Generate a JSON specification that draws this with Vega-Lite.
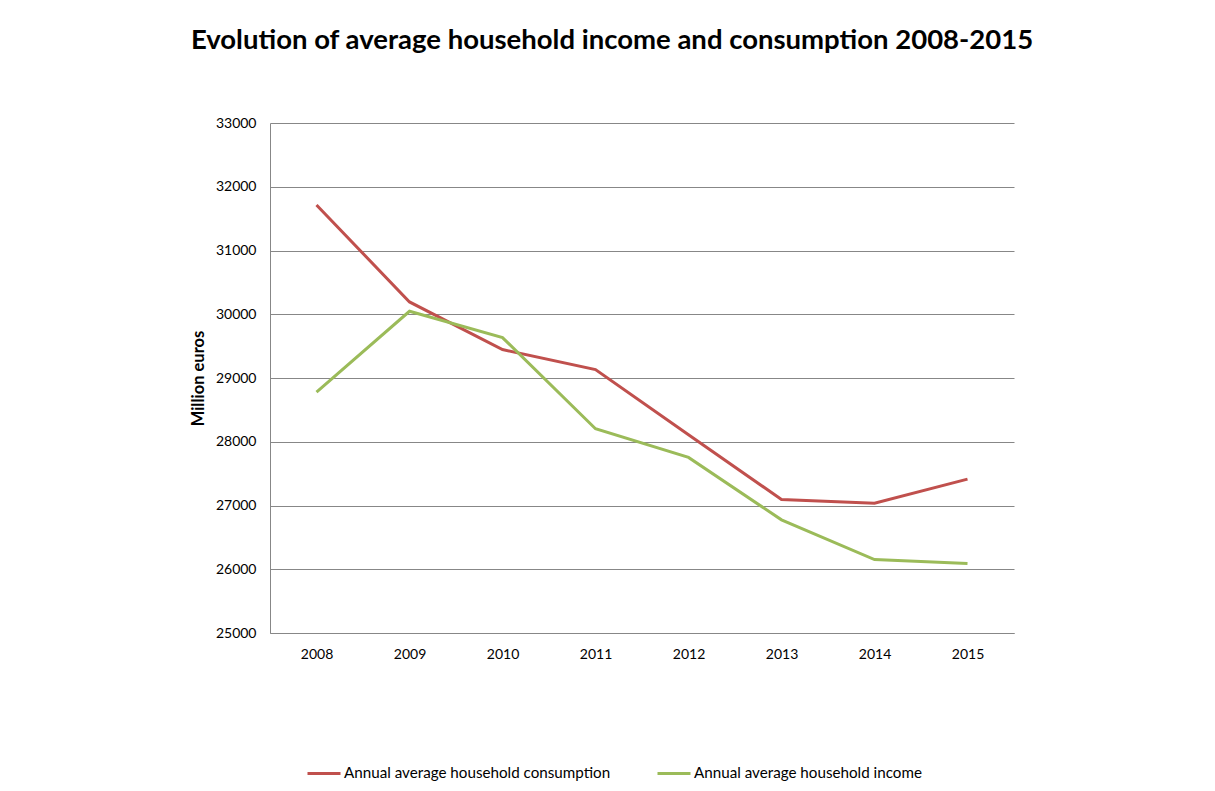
{
  "$schema": "https://vega.github.io/schema/vega-lite/v6.json",
  "width": 744,
  "height": 510,
  "autosize": {"type": "none"},
  "padding": {"left": 270, "top": 123, "right": 201, "bottom": 158},
  "background": "white",
  "title": {
    "text": "Evolution of average household income and consumption 2008-2015",
    "font": "Lato",
    "fontSize": 27.5,
    "fontWeight": "bold",
    "color": "#000000",
    "anchor": "middle",
    "frame": "group",
    "dx": -30,
    "offset": 62
  },
  "data": {
    "values": [
      {"year": "2008", "series": "Annual average household consumption", "value": 31713},
      {"year": "2009", "series": "Annual average household consumption", "value": 30193},
      {"year": "2010", "series": "Annual average household consumption", "value": 29446},
      {"year": "2011", "series": "Annual average household consumption", "value": 29132},
      {"year": "2012", "series": "Annual average household consumption", "value": 28110},
      {"year": "2013", "series": "Annual average household consumption", "value": 27094},
      {"year": "2014", "series": "Annual average household consumption", "value": 27036},
      {"year": "2015", "series": "Annual average household consumption", "value": 27413},
      {"year": "2008", "series": "Annual average household income", "value": 28780},
      {"year": "2009", "series": "Annual average household income", "value": 30047},
      {"year": "2010", "series": "Annual average household income", "value": 29634},
      {"year": "2011", "series": "Annual average household income", "value": 28204},
      {"year": "2012", "series": "Annual average household income", "value": 27754},
      {"year": "2013", "series": "Annual average household income", "value": 26775},
      {"year": "2014", "series": "Annual average household income", "value": 26152},
      {"year": "2015", "series": "Annual average household income", "value": 26089}
    ]
  },
  "mark": {"type": "line", "strokeWidth": 3},
  "encoding": {
    "x": {
      "field": "year",
      "type": "ordinal",
      "scale": {"type": "point", "padding": 0.5},
      "axis": {
        "title": null,
        "labelAngle": 0,
        "ticks": false,
        "domain": true,
        "domainColor": "#878787",
        "grid": false,
        "labelPadding": 14,
        "labelFont": "Lato",
        "labelFontSize": 14,
        "labelColor": "#000000"
      }
    },
    "y": {
      "field": "value",
      "type": "quantitative",
      "scale": {"domain": [25000, 33000], "nice": false, "zero": false},
      "axis": {
        "title": "Million euros",
        "values": [25000, 26000, 27000, 28000, 29000, 30000, 31000, 32000, 33000],
        "format": "d",
        "ticks": false,
        "domain": true,
        "domainColor": "#878787",
        "grid": true,
        "gridColor": "#878787",
        "gridWidth": 1,
        "labelPadding": 14,
        "labelFont": "Lato",
        "labelFontSize": 14,
        "labelColor": "#000000",
        "titleFont": "Lato",
        "titleFontSize": 16.5,
        "titleFontWeight": "bold",
        "titleColor": "#000000",
        "titlePadding": 9
      }
    },
    "color": {
      "field": "series",
      "type": "nominal",
      "scale": {
        "domain": ["Annual average household consumption", "Annual average household income"],
        "range": ["#C0504D", "#9BBB59"]
      },
      "legend": {
        "title": null,
        "orient": "none",
        "legendX": 36,
        "legendY": 632,
        "direction": "horizontal",
        "symbolType": "stroke",
        "symbolSize": 1089,
        "symbolStrokeWidth": 3,
        "labelFont": "Lato",
        "labelFontSize": 15.2,
        "labelColor": "#000000",
        "labelOffset": 2,
        "columnPadding": 40,
        "labelLimit": 400
      }
    }
  },
  "config": {"view": {"stroke": null}}
}
